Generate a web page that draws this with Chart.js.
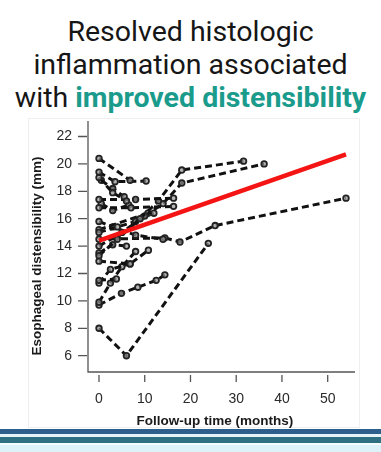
<!DOCTYPE html>
<html>
<head>
<meta charset="utf-8">
<script src="https://cdn.jsdelivr.net/npm/chart.js@4.4.1/dist/chart.umd.min.js"></script>
<style>
  html, body { margin: 0; padding: 0; background: #fff; }
  #wrap { position: relative; width: 381px; height: 452px; overflow: hidden; background: #fff; }
  #title {
    position: absolute; left: 0; top: 15px; width: 381px;
    text-align: center; font-family: Roboto, sans-serif; font-size: 28.5px;
    line-height: 33px; color: #161616; white-space: nowrap;
  }
  #title b { color: #1a9b8c; font-weight: 700; }
  #frame { position: absolute; left: 28px; top: 118px; width: 330px; height: 308px; border: 1px solid #efefef; }
  #chart { position: absolute; left: 0; top: 0; }
  .band { position: absolute; left: 0; width: 381px; }
</style>
</head>
<body>
<div id="wrap">
  <div id="frame"></div>
  <div id="title">Resolved histologic<br>inflammation associated<br>with <b>improved distensibility</b></div>
  <canvas id="chart" width="381" height="452"></canvas>
  <div class="band" style="top:429px;height:5px;background:#2d5f8c;"></div>
  <div class="band" style="top:434px;height:3px;background:#e6f2f6;"></div>
  <div class="band" style="top:437px;height:6px;background:#2e6f82;"></div>
  <div class="band" style="top:443px;height:2px;background:#f4fbfd;"></div>
  <div class="band" style="top:445px;height:7px;background:#ddf1f8;"></div>
</div>
<script>
// tick values
const xTicks = [0, 10, 20, 30, 40, 50];
const yTicks = [6, 8, 10, 12, 14, 16, 18, 20, 22];

// each patient: follow-up months and distensibility (mm)
const followUpMonths = [
  [0, 6.8],
  [0, 3.5, 10.3],
  [0, 3, 6],
  [0.5, 3, 5.5],
  [0, 8, 16.3],
  [0, 7, 16.3],
  [0.5, 3, 6.5],
  [0, 4, 9, 13, 18.1, 31.6],
  [0, 5, 10, 14, 18.1, 36.1],
  [0, 4, 8, 12],
  [0, 10.7],
  [0, 3, 8, 14],
  [0, 14.4, 17.7, 25.4, 54],
  [0, 3, 6],
  [0, 6.8, 10.8],
  [0, 3.8],
  [0, 2.5, 6.8],
  [0, 2.5, 5, 8],
  [0, 4.9, 8.5, 12.5, 14.4],
  [0, 6, 23.9]
];
const distensibility = [
  [20.4, 18.8],
  [19.4, 18.7, 18.75],
  [19.0, 17.9, 17.3],
  [18.8, 18.2, 17.6],
  [17.4, 17.4, 17.5],
  [16.8, 16.8, 16.9],
  [17.1, 16.6, 17.0],
  [13.3, 14.5, 16.0, 17.3, 19.55, 20.2],
  [14.0, 15.0, 16.2, 17.1, 18.6, 20.0],
  [15.0, 15.4, 15.8, 16.4],
  [15.2, 16.4],
  [15.8, 15.4, 14.8, 14.5],
  [14.5, 14.6, 14.3, 15.5, 17.5],
  [13.5, 14.1, 14.0],
  [12.9, 12.7, 13.7],
  [11.5, 11.6],
  [11.3, 12.3, 12.7],
  [9.9, 11.3, 12.5, 13.6],
  [9.7, 10.55, 11.0, 11.5, 11.9],
  [8.0, 6.0, 14.2]
];

// fitted trend
const fitMonths = [0, 54];
const fitDist = [14.4, 20.7];

const datasets = [{
  data: fitMonths.map((m, i) => ({ x: m, y: fitDist[i] })),
  borderColor: '#f41414',
  borderWidth: 4.5,
  pointRadius: 0,
  order: 0
}];
followUpMonths.forEach((ms, k) => {
  datasets.push({
    data: ms.map((m, i) => ({ x: m, y: distensibility[k][i] })),
    borderColor: '#111',
    borderWidth: 3,
    borderDash: [7, 4],
    pointRadius: 2.8,
    pointBorderWidth: 1.8,
    pointBorderColor: '#222',
    pointBackgroundColor: 'rgba(150,150,150,0.7)',
    order: 1
  });
});

const axisDeco = {
  id: 'axisDeco',
  afterDraw(chart) {
    const ctx = chart.ctx, a = chart.chartArea;
    const xs = chart.scales.x, ys = chart.scales.y;
    ctx.save();
    ctx.strokeStyle = '#555';
    ctx.lineWidth = 1.3;
    ctx.beginPath();
    ctx.moveTo(a.left, a.top);
    ctx.lineTo(a.left, a.bottom);
    ctx.lineTo(a.right, a.bottom);
    ctx.stroke();
    ctx.beginPath();
    yTicks.forEach(v => {
      const py = ys.getPixelForValue(v);
      ctx.moveTo(a.left - 10, py);
      ctx.lineTo(a.left - 1, py);
    });
    xTicks.forEach(v => {
      const px = xs.getPixelForValue(v);
      ctx.moveTo(px, a.bottom + 3);
      ctx.lineTo(px, a.bottom + 10);
    });
    ctx.stroke();

    ctx.fillStyle = '#1a1a1a';
    ctx.font = 'bold 13.5px "Liberation Sans", Arial, sans-serif';
    ctx.textAlign = 'center';
    ctx.textBaseline = 'middle';
    ctx.fillText('Follow-up time (months)', xs.getPixelForValue(25) + 1.5, 421);
    ctx.translate(37, 256);
    ctx.rotate(-Math.PI / 2);
    ctx.fillText('Esophageal distensibility (mm)', 0, 0);
    ctx.restore();
  }
};

new Chart(document.getElementById('chart'), {
  type: 'line',
  data: { datasets: datasets },
  options: {
    responsive: false,
    animation: false,
    layout: { padding: { top: 121, right: 26, bottom: 0, left: 0 } },
    plugins: { legend: { display: false }, tooltip: { enabled: false }, title: { display: false } },
    elements: { line: { tension: 0 } },
    scales: {
      x: {
        type: 'linear',
        min: -2.405,
        max: 55.97,
        afterFit: s => { s.height = 80; },
        afterBuildTicks: s => { s.ticks = xTicks.map(v => ({ value: v })); },
        grid: { display: false, drawTicks: false },
        border: { display: false },
        ticks: { padding: 19, color: '#2a2a2a', font: { family: 'Liberation Sans', size: 14 } }
      },
      y: {
        type: 'linear',
        min: 4.81,
        max: 23.13,
        afterFit: s => { s.width = 88; },
        afterBuildTicks: s => { s.ticks = yTicks.map(v => ({ value: v })); },
        grid: { display: false, drawTicks: false },
        border: { display: false },
        ticks: { padding: 16, color: '#2a2a2a', font: { family: 'Liberation Sans', size: 14 } }
      }
    }
  },
  plugins: [axisDeco]
});
</script>
</body>
</html>
